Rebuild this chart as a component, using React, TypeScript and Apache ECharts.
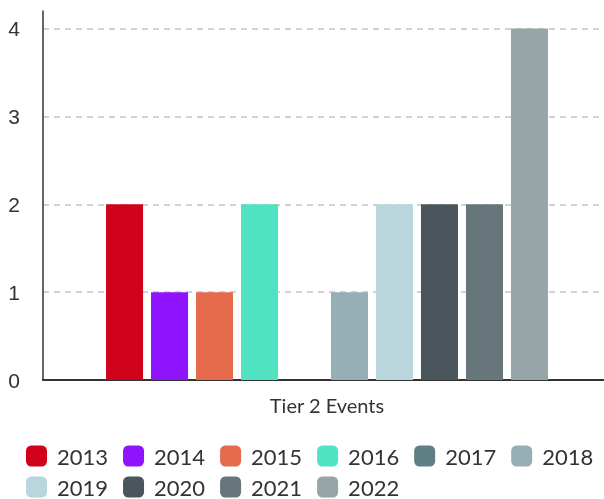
import React, { useEffect, useRef } from "react";
import * as echarts from "echarts";

const categories = ["Tier 2 Events"];
const years = ["2013", "2014", "2015", "2016", "2017", "2018", "2019", "2020", "2021", "2022"];
const values = [2, 1, 1, 2, 0, 1, 2, 2, 2, 4];
const colors = ["#d0021b", "#9013fe", "#e66a4c", "#50e3c2", "#607f84", "#95afb4", "#b8d6dc", "#4a565b", "#67767a", "#97a4a8"];
const yTicks = [0, 1, 2, 3, 4];
const legendRow1 = years.slice(0, 6);
const legendRow2 = years.slice(6);

export default function App() {
  const ref = useRef<HTMLDivElement>(null);
  useEffect(() => {
    if (!ref.current) return;
    const chart = echarts.init(ref.current, null, { renderer: "svg" });
    const legendBase = {
      left: 26,
      padding: 0,
      icon: "roundRect",
      itemWidth: 21,
      itemHeight: 21,
      itemGap: 15,
      textStyle: { fontFamily: "Lato", fontSize: 22, lineHeight: 22, color: "#333", padding: [0, 0, 0, 5] },
    };
    chart.setOption({
      animation: false,
      grid: { left: 43, right: 0, top: 11, bottom: 119, containLabel: false },
      legend: [
        { ...legendBase, data: legendRow1, top: 445 },
        { ...legendBase, data: legendRow2, top: 476 },
      ],
      xAxis: {
        type: "category",
        data: categories,
        axisLine: { lineStyle: { color: "#333", width: 2 } },
        axisTick: { show: false },
        axisLabel: { fontFamily: "Lato", fontSize: 20, color: "#333", margin: 15 },
      },
      yAxis: {
        type: "value",
        min: yTicks[0],
        max: 4.2,
        interval: 1,
        axisLine: { show: true, lineStyle: { color: "#333", width: 1.5 } },
        axisTick: { show: false },
        axisLabel: {
          fontFamily: "Liberation Sans",
          fontSize: 21,
          color: "#333",
          margin: 23,
          showMaxLabel: false,
          formatter: (v: number) => (Number.isInteger(v) ? String(v) : ""),
        },
        splitLine: {
          show: true,
          showMinLine: false,
          showMaxLine: false,
          lineStyle: { color: "#c4c4c4", type: [6, 5], width: 1.5 },
        },
      },
      series: years.map((y, i) => ({
        name: y,
        type: "bar",
        data: [values[i]],
        barWidth: 37,
        barGap: "21.6%",
        itemStyle: { color: colors[i] },
      })),
    });
    return () => chart.dispose();
  }, []);
  return (
    <div style={{ position: "fixed", left: 0, top: 0, width: 604, height: 499, overflow: "hidden" }}>
      <div ref={ref} style={{ width: 611, height: 499 }} />
    </div>
  );
}
